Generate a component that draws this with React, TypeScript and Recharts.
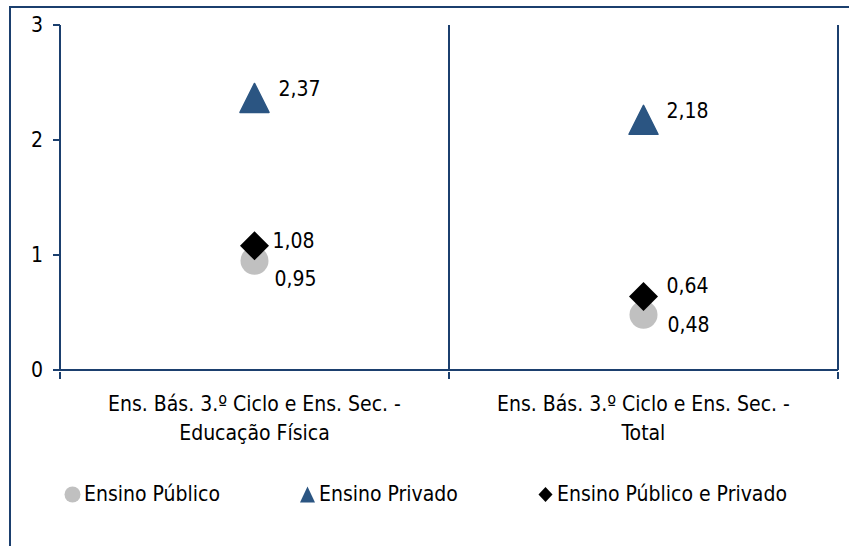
import React from "react";
import { ComposedChart, Line, XAxis, YAxis, CartesianGrid, LabelList } from "recharts";

const categories = [
  "Ens. Bás. 3.º Ciclo e Ens. Sec. - Educação Física",
  "Ens. Bás. 3.º Ciclo e Ens. Sec. - Total",
];
const categoryLines = [
  ["Ens. Bás. 3.º Ciclo e Ens. Sec. -", "Educação Física"],
  ["Ens. Bás. 3.º Ciclo e Ens. Sec. -", "Total"],
];
const ensinoPublico = [0.95, 0.48];
const ensinoPrivado = [2.37, 2.18];
const ensinoPublicoPrivado = [1.08, 0.64];
const yTicks = [0, 1, 2, 3];
const seriesNames = ["Ensino Público", "Ensino Privado", "Ensino Público e Privado"];

const NAVY = "#1B3F6E";
const TRIANGLE = "#2B5582";
const GREY = "#C0C0C0";
const FONT = "'DejaVu Sans Condensed', 'DejaVu Sans', sans-serif";
const FS = 21;
const HALF_BAND = 194.5;

const data = categories.map((cat, i) => ({
  cat,
  pub: ensinoPublico[i],
  priv: ensinoPrivado[i],
  both: ensinoPublicoPrivado[i],
}));

const fmt = (v: number) => v.toFixed(2).replace(".", ",");

function CircleDot(props: any) {
  const { cx, cy, index } = props;
  return <circle key={`c-${index}`} cx={cx} cy={cy} r={14} fill={GREY} />;
}

function TriangleDot(props: any) {
  const { cx, cy, index } = props;
  return (
    <path
      key={`t-${index}`}
      d={`M${cx},${cy - 14} L${cx + 14.5},${cy + 15} L${cx - 14.5},${cy + 15} Z`}
      fill={TRIANGLE}
      stroke={TRIANGLE}
      strokeWidth={1.5}
      strokeLinejoin="round"
    />
  );
}

function DiamondDot(props: any) {
  const { cx, cy, index } = props;
  return (
    <path
      key={`d-${index}`}
      d={`M${cx},${cy - 14.5} L${cx + 14.5},${cy} L${cx},${cy + 14.5} L${cx - 14.5},${cy} Z`}
      fill="#000"
    />
  );
}

// label nudges per point, relative to the marker centre (x start, baseline)
const makeLabel = (nudge: [number, number][]) => (props: any) => {
  const { x, y, value, index } = props;
  const [dx, dy] = nudge[index] || [20, 0];
  return (
    <text x={x + dx} y={y + dy} fontSize={FS} fontFamily={FONT} fill="#000">
      {fmt(value)}
    </text>
  );
};

function CategoryTick(props: any) {
  const { x, y, payload } = props;
  const idx = categories.indexOf(payload.value);
  const lines = categoryLines[idx] || [payload.value];
  return (
    <g>
      <line x1={x - HALF_BAND} x2={x - HALF_BAND} y1={y} y2={y + 7} stroke={NAVY} strokeWidth={2} />
      <line x1={x + HALF_BAND} x2={x + HALF_BAND} y1={y} y2={y + 7} stroke={NAVY} strokeWidth={2} />
      {lines.map((l, i) => (
        <text key={i} x={x} y={y + 39 + i * 29} textAnchor="middle" fontSize={FS} fontFamily={FONT} fill="#000">
          {l}
        </text>
      ))}
    </g>
  );
}

function LegendIcon({ kind }: { kind: number }) {
  if (kind === 0) {
    return (
      <svg width={17} height={17}>
        <circle cx={8.5} cy={8.5} r={8} fill={GREY} />
      </svg>
    );
  }
  if (kind === 1) {
    return (
      <svg width={17} height={17}>
        <path d="M8.5,0.5 L16,16.5 L1,16.5 Z" fill={TRIANGLE} />
      </svg>
    );
  }
  return (
    <svg width={17} height={17}>
      <path d="M8.5,1 L15.5,8.5 L8.5,16 L1.5,8.5 Z" fill="#000" />
    </svg>
  );
}

const legendLeft = [64, 299, 537];

export default function App() {
  return (
    <div style={{ position: "fixed", left: 0, top: 0, width: 849, height: 546, overflow: "hidden", background: "#fff", fontFamily: FONT }}>
      <div
        style={{
          position: "absolute",
          left: 9,
          top: 6,
          width: 900,
          height: 600,
          borderLeft: `2px solid ${NAVY}`,
          borderTop: `2px solid ${NAVY}`,
        }}
      />
      <div style={{ position: "absolute", left: 0, top: 0 }}>
        <ComposedChart width={849} height={546} data={data} margin={{ top: 25, right: 11, bottom: 106, left: 0 }}>
          <CartesianGrid
            horizontal={false}
            vertical
            stroke={NAVY}
            strokeWidth={2}
            verticalCoordinatesGenerator={({ offset }: any) => [offset.left + offset.width / 2, offset.left + offset.width]}
          />
          <XAxis
            dataKey="cat"
            scale="band"
            height={70}
            axisLine={{ stroke: NAVY, strokeWidth: 2 }}
            tickLine={false}
            tickSize={0}
            tick={<CategoryTick />}
            interval={0}
          />
          <YAxis
            domain={[0, 3]}
            ticks={yTicks}
            width={60}
            axisLine={{ stroke: NAVY, strokeWidth: 2 }}
            tickLine={{ stroke: NAVY, strokeWidth: 2 }}
            tickSize={7}
            tickMargin={10}
            tick={{ fontSize: FS, fontFamily: FONT, fill: "#000" }}
          />
          <Line dataKey="pub" name={seriesNames[0]} stroke="none" dot={CircleDot} activeDot={false} isAnimationActive={false}>
            <LabelList dataKey="pub" content={makeLabel([[20, 25], [24, 17]])} />
          </Line>
          <Line dataKey="priv" name={seriesNames[1]} stroke="none" dot={TriangleDot} activeDot={false} isAnimationActive={false}>
            <LabelList dataKey="priv" content={makeLabel([[24, -1], [23, -1]])} />
          </Line>
          <Line dataKey="both" name={seriesNames[2]} stroke="none" dot={DiamondDot} activeDot={false} isAnimationActive={false}>
            <LabelList dataKey="both" content={makeLabel([[18, 2], [23, -3]])} />
          </Line>
        </ComposedChart>
      </div>
      {seriesNames.map((name, i) => (
        <div
          key={name}
          style={{ position: "absolute", left: legendLeft[i], top: 481, display: "flex", alignItems: "center", fontSize: FS, color: "#000", lineHeight: "26px" }}
        >
          <LegendIcon kind={i} />
          <span style={{ marginLeft: 3 }}>{name}</span>
        </div>
      ))}
    </div>
  );
}
